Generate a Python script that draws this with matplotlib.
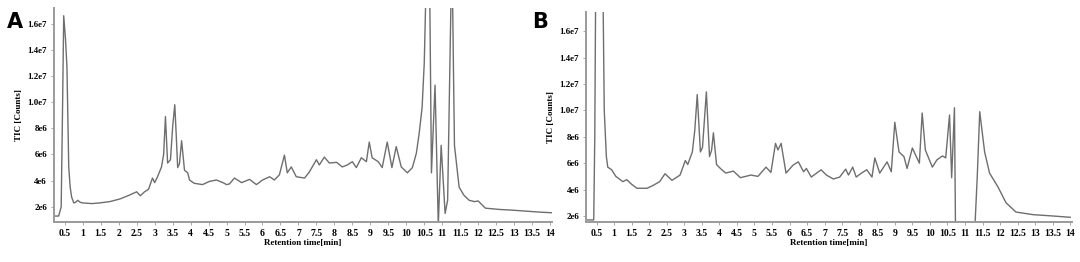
import numpy as np
import matplotlib
matplotlib.use('Agg')
import matplotlib.pyplot as plt

# chromatogram A (retention time in min, TIC in 1e6 counts)
time_a = [0.20, 0.33, 0.40, 0.44, 0.47, 0.52, 0.56, 0.61, 0.65, 0.69, 0.75, 0.80, 0.86, 0.93, 1.00,
          1.25, 1.47, 1.75, 2.03, 2.30, 2.50, 2.60, 2.72, 2.83, 2.94, 3.00, 3.08, 3.19, 3.25, 3.30,
          3.36, 3.44, 3.50, 3.56, 3.60, 3.64, 3.69, 3.75, 3.83, 3.92, 3.97, 4.10, 4.33, 4.53, 4.72,
          4.90, 5.00, 5.08, 5.22, 5.42, 5.64, 5.83, 6.00, 6.20, 6.33, 6.47, 6.61, 6.69, 6.80, 6.94,
          7.17, 7.30, 7.50, 7.58, 7.72, 7.86, 8.06, 8.22, 8.36, 8.50, 8.61, 8.75, 8.89, 8.97, 9.05,
          9.22, 9.33, 9.47, 9.60, 9.72, 9.86, 10.03, 10.17, 10.28, 10.36, 10.44, 10.50, 10.55, 10.60,
          10.65, 10.70, 10.75, 10.80, 10.89, 10.97, 11.08, 11.15, 11.22, 11.27, 11.31, 11.34, 11.47,
          11.60, 11.75, 11.90, 12.00, 12.20, 12.60, 12.94, 13.70, 14.05]
tic_a = [1.3, 1.3, 2.0, 10.0, 16.6, 14.8, 12.7, 5.05, 3.5, 2.75, 2.3, 2.35, 2.5, 2.35, 2.3,
         2.25, 2.3, 2.4, 2.6, 2.9, 3.15, 2.85, 3.15, 3.35, 4.2, 3.85, 4.3, 5.05, 6.0, 8.9,
         5.35, 5.6, 8.1, 9.8, 7.5, 5.0, 5.3, 7.05, 4.8, 4.6, 4.05, 3.8, 3.7, 3.95, 4.05,
         3.85, 3.7, 3.75, 4.2, 3.85, 4.1, 3.7, 4.05, 4.3, 4.05, 4.45, 5.95, 4.6, 5.05, 4.3,
         4.2, 4.65, 5.6, 5.2, 5.8, 5.35, 5.4, 5.05, 5.2, 5.45, 5.0, 5.75, 5.45, 6.95, 5.75,
         5.45, 5.0, 6.95, 5.0, 6.6, 5.05, 4.6, 5.0, 6.1, 7.65, 9.6, 13.0, 19.0, 24.0,
         19.0, 4.6, 8.0, 11.3, 0.6, 6.7, 1.5, 2.5, 14.0, 22.0, 13.0, 6.7, 3.5,
         2.9, 2.5, 2.4, 2.45, 1.9, 1.8, 1.75, 1.6, 1.55]

# chromatogram B
time_b = [0.18, 0.30, 0.42, 0.45, 0.50, 0.58, 0.66, 0.72, 0.78, 0.82, 0.93, 1.05, 1.25, 1.36, 1.50,
          1.65, 1.94, 2.10, 2.30, 2.45, 2.65, 2.88, 3.03, 3.10, 3.23, 3.30, 3.37, 3.46, 3.52, 3.58,
          3.63, 3.72, 3.78, 3.83, 3.92, 4.03, 4.18, 4.40, 4.60, 4.90, 5.10, 5.33, 5.47, 5.60, 5.67,
          5.76, 5.90, 6.10, 6.25, 6.40, 6.48, 6.62, 6.90, 7.05, 7.25, 7.43, 7.60, 7.68, 7.80, 7.90,
          8.05, 8.20, 8.35, 8.43, 8.57, 8.78, 8.90, 9.00, 9.12, 9.26, 9.35, 9.50, 9.70, 9.78, 9.87,
          10.07, 10.20, 10.36, 10.45, 10.56, 10.62, 10.70, 10.73, 10.80, 11.00, 11.20, 11.28, 11.35,
          11.42, 11.56, 11.70, 11.94, 12.17, 12.45, 12.94, 13.50, 14.00]
tic_b = [1.7, 1.7, 1.7, 8.0, 30.0, 30.0, 25.0, 10.0, 6.5, 5.7, 5.5, 5.0, 4.6, 4.75, 4.4,
         4.1, 4.1, 4.3, 4.6, 5.2, 4.7, 5.1, 6.2, 5.9, 6.85, 8.5, 11.2, 6.85, 7.2, 9.5,
         11.4, 6.5, 7.0, 8.3, 5.9, 5.6, 5.25, 5.4, 4.9, 5.1, 5.0, 5.7, 5.3, 7.5, 7.0,
         7.5, 5.25, 5.85, 6.1, 5.35, 5.6, 4.95, 5.5, 5.1, 4.8, 4.95, 5.55, 5.1, 5.7, 4.95,
         5.25, 5.5, 4.95, 6.4, 5.25, 6.1, 5.35, 9.1, 6.85, 6.5, 5.6, 7.15, 6.0, 9.8, 7.0,
         5.7, 6.25, 6.55, 6.4, 9.65, 4.9, 10.2, 1.0, 1.0, 1.0, 1.0, 1.0, 5.0,
         9.9, 6.85, 5.25, 4.2, 3.0, 2.3, 2.1, 2.0, 1.9]

x_ticks = np.arange(0.5, 14.01, 0.5)
x_labels = ['%g' % t for t in x_ticks]
y_ticks = [2e6, 4e6, 6e6, 8e6, 1.0e7, 1.2e7, 1.4e7, 1.6e7]
y_labels = ['2e6', '4e6', '6e6', '8e6', '1.0e7', '1.2e7', '1.4e7', '1.6e7']

serif = 'Liberation Serif'

fig = plt.figure(figsize=(10.8, 2.62), dpi=100)
ax_a = fig.add_axes([0.050, 0.153, 0.461, 0.817])
ax_b = fig.add_axes([0.5426, 0.153, 0.4500, 0.801])

panels = [(ax_a, time_a, tic_a, (0.85e6, 17.2e6), 'A', 0.006),
          (ax_b, time_b, tic_b, (1.55e6, 17.45e6), 'B', 0.493)]

for ax, t, v, ylim, letter, lx in panels:
    ax.plot(t, np.array(v) * 1e6, color='#6e6e6e', lw=1.0)
    ax.set_xlim(0.2, 14.05)
    ax.set_ylim(*ylim)
    ax.set_xticks(x_ticks)
    ax.set_xticklabels(x_labels, fontsize=7, family=serif, fontweight='bold')
    ax.set_yticks(y_ticks)
    ax.set_yticklabels(y_labels, fontsize=6.5, family=serif, fontweight='bold')
    ax.set_xlabel('Retention time[min]', fontsize=6.5, family=serif, fontweight='bold', labelpad=1)
    ax.set_ylabel('TIC [Counts]', fontsize=6.5, family=serif, fontweight='bold', labelpad=3)
    for s in ['top', 'right']:
        ax.spines[s].set_visible(False)
    for s in ['left', 'bottom']:
        ax.spines[s].set_color('#9a9a9a')
        ax.spines[s].set_linewidth(1.4)
    ax.tick_params(length=2, width=0.6, color='#9a9a9a', pad=3)
    fig.text(lx, 0.895, letter, fontsize=15, fontweight='bold', family='DejaVu Sans')

fig.savefig('out.png', dpi=100)
